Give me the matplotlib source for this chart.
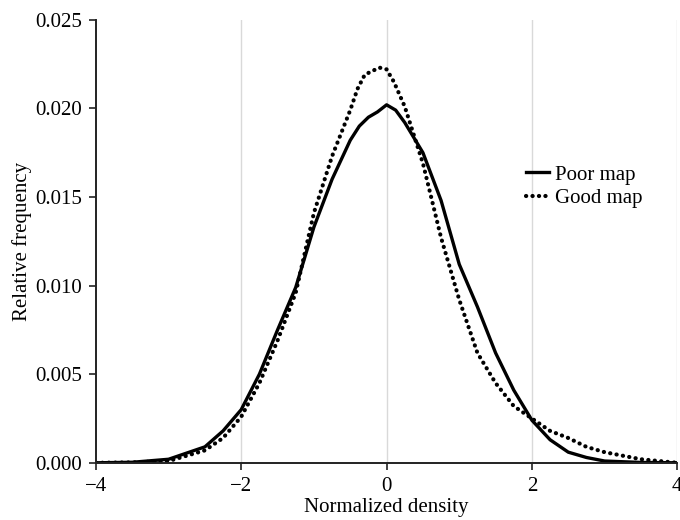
import matplotlib
matplotlib.use("Agg")
import matplotlib.pyplot as plt

# values
x_poor = [-4.0, -3.5, -3.0, -2.5, -2.25, -2.0, -1.75, -1.5, -1.25, -1.0, -0.75, -0.5,
          -0.375, -0.25, -0.125, 0.0, 0.125, 0.25, 0.5, 0.75, 1.0, 1.25, 1.5, 1.75,
          2.0, 2.25, 2.5, 2.75, 3.0, 3.5, 4.0]
y_poor = [0.0, 0.00003, 0.0002, 0.0009, 0.0018, 0.0030, 0.0050, 0.0075, 0.0099, 0.0133,
          0.0160, 0.0182, 0.0190, 0.0195, 0.0198, 0.0202, 0.0199, 0.0192, 0.0175, 0.0148,
          0.0112, 0.0088, 0.0062, 0.0041, 0.0024, 0.0013, 0.0006, 0.0003, 0.0001,
          0.00002, 0.0]

x_good = [-4.0, -3.5, -3.0, -2.5, -2.25, -2.0, -1.75, -1.5, -1.25, -1.0, -0.75, -0.5,
          -0.4, -0.3, -0.2, -0.1, 0.0, 0.1, 0.25, 0.5, 0.75, 1.0, 1.25, 1.5, 1.75,
          2.0, 2.25, 2.5, 2.75, 3.0, 3.25, 3.5, 3.75, 4.0]
y_good = [0.0, 0.00002, 0.0001, 0.0007, 0.0014, 0.0026, 0.0045, 0.0069, 0.0096, 0.0141,
          0.0173, 0.0199, 0.0211, 0.0219, 0.0221, 0.0223, 0.0222, 0.0215, 0.0201, 0.0169,
          0.0127, 0.0092, 0.0062, 0.0045, 0.0032, 0.0025, 0.0018, 0.0014, 0.0009,
          0.0006, 0.0004, 0.0002, 0.0001, 0.0]

xticks = [-4, -2, 0, 2, 4]
yticks = [0.0, 0.005, 0.010, 0.015, 0.020, 0.025]

plt.rcParams['font.family'] = ['Liberation Serif', 'DejaVu Serif']
plt.rcParams['font.size'] = 15

fig = plt.figure(figsize=(6.8, 5.2), dpi=100)
ax = fig.add_axes([0.141, 0.110, 0.855, 0.852])

for gx in xticks[1:]:
    ax.axvline(gx, color='#d9d9d9', lw=1.0, zorder=0)

ax.plot(x_poor, y_poor, color='black', lw=2.4, label='Poor map', solid_joinstyle='round')
ax.plot(x_good, y_good, color='black', lw=3.0, linestyle=(0, (0.05, 1.5)),
        dash_capstyle='round', label='Good map')

ax.set_xlim(-4, 4)
ax.set_ylim(0, 0.025)
ax.set_xticks(xticks)
ax.set_xticklabels(['\u22124', '\u22122', '0', '2', '4'])
ax.set_yticks(yticks)
ax.set_yticklabels(['%.3f' % v for v in yticks])

for s in ['top', 'right']:
    ax.spines[s].set_visible(False)
for s in ['left', 'bottom']:
    ax.spines[s].set_linewidth(1.4)
    ax.spines[s].set_color('#222222')
ax.tick_params(direction='out', length=5, width=1.2, color='#222222', pad=5)

ax.set_xlabel('Normalized density', labelpad=2)
ax.set_ylabel('Relative frequency', labelpad=2)

ax.legend(loc='upper left', bbox_to_anchor=(0.715, 0.705), frameon=False,
          handlelength=1.1, handletextpad=0.3, labelspacing=0.2, borderpad=0.2)

fig.savefig('out.png', dpi=100)
